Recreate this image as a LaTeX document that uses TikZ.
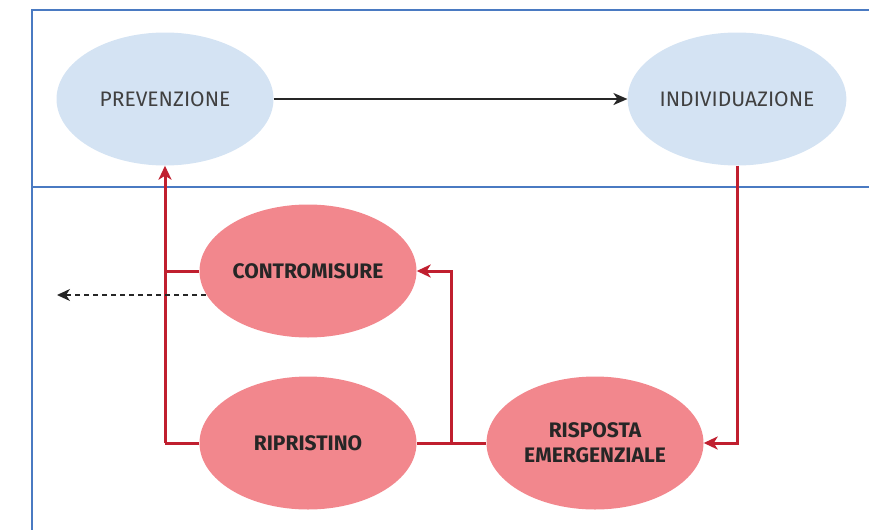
\documentclass[tikz,border=0pt]{standalone}
\usepackage{fontspec}
\setmainfont{Fira Sans}
\usetikzlibrary{arrows.meta, shapes.geometric}
\definecolor{ltblue}{HTML}{D4E3F3}
\definecolor{ltred}{HTML}{F2878D}
\definecolor{dkred}{HTML}{C01F2F}
\definecolor{frameblue}{HTML}{4A7AC2}

\begin{document}
\begin{tikzpicture}[x=1pt,y=-1pt]
\tikzset{
  phase/.style={ellipse, fill=ltblue, minimum width=217pt, minimum height=133pt, inner sep=0pt, text=black!75, font=\fontsize{21}{24}\selectfont},
  response/.style={phase, fill=ltred, text=black!85, align=center, font=\fontsize{21}{25}\selectfont\bfseries},
  redarrow/.style={draw=dkred, line width=3pt, -{Stealth[length=14pt,width=13pt,inset=4pt]}},
  redline/.style={draw=dkred, line width=3pt}
}
\useasboundingbox (0,0) rectangle (869,530);

\draw[frameblue, line width=2pt] (869,10) -- (32,10) -- (32,530);
\draw[frameblue, line width=2pt] (32,187) -- (869,187);

\node[phase] (P) at (165,99) {PREVENZIONE};
\node[phase] (I) at (737,99) {INDIVIDUAZIONE};
\node[response] (C) at (308,271) {CONTROMISURE};
\node[response] (R) at (308,443) {RIPRISTINO};
\node[response] (E) at (595,443) {RISPOSTA\\EMERGENZIALE};

\coordinate (Cd) at (206,295);
\coordinate (D) at (57,295);
\coordinate (L) at (165,443);
\coordinate (M) at (451,443);

\draw[black!85, line width=2pt, -{Stealth[length=14pt,width=12pt,inset=4pt]}] (P) -- (I);
\draw[redarrow] (I.south) |- (E.east);
\draw[redline] (E.west) -- (R.east);
\draw[redarrow] (M) |- (C.east);
\draw[redline] (R.west) -- (L);
\draw[redarrow] (L) -- (P.south);
\draw[redline] (C.west) -- (C.west -| L);
\draw[black!85, line width=1.5pt, dash pattern=on 5pt off 4pt, -{Stealth[length=13pt,width=12pt,inset=4pt]}] (Cd) -- (D);
\end{tikzpicture}
\end{document}
